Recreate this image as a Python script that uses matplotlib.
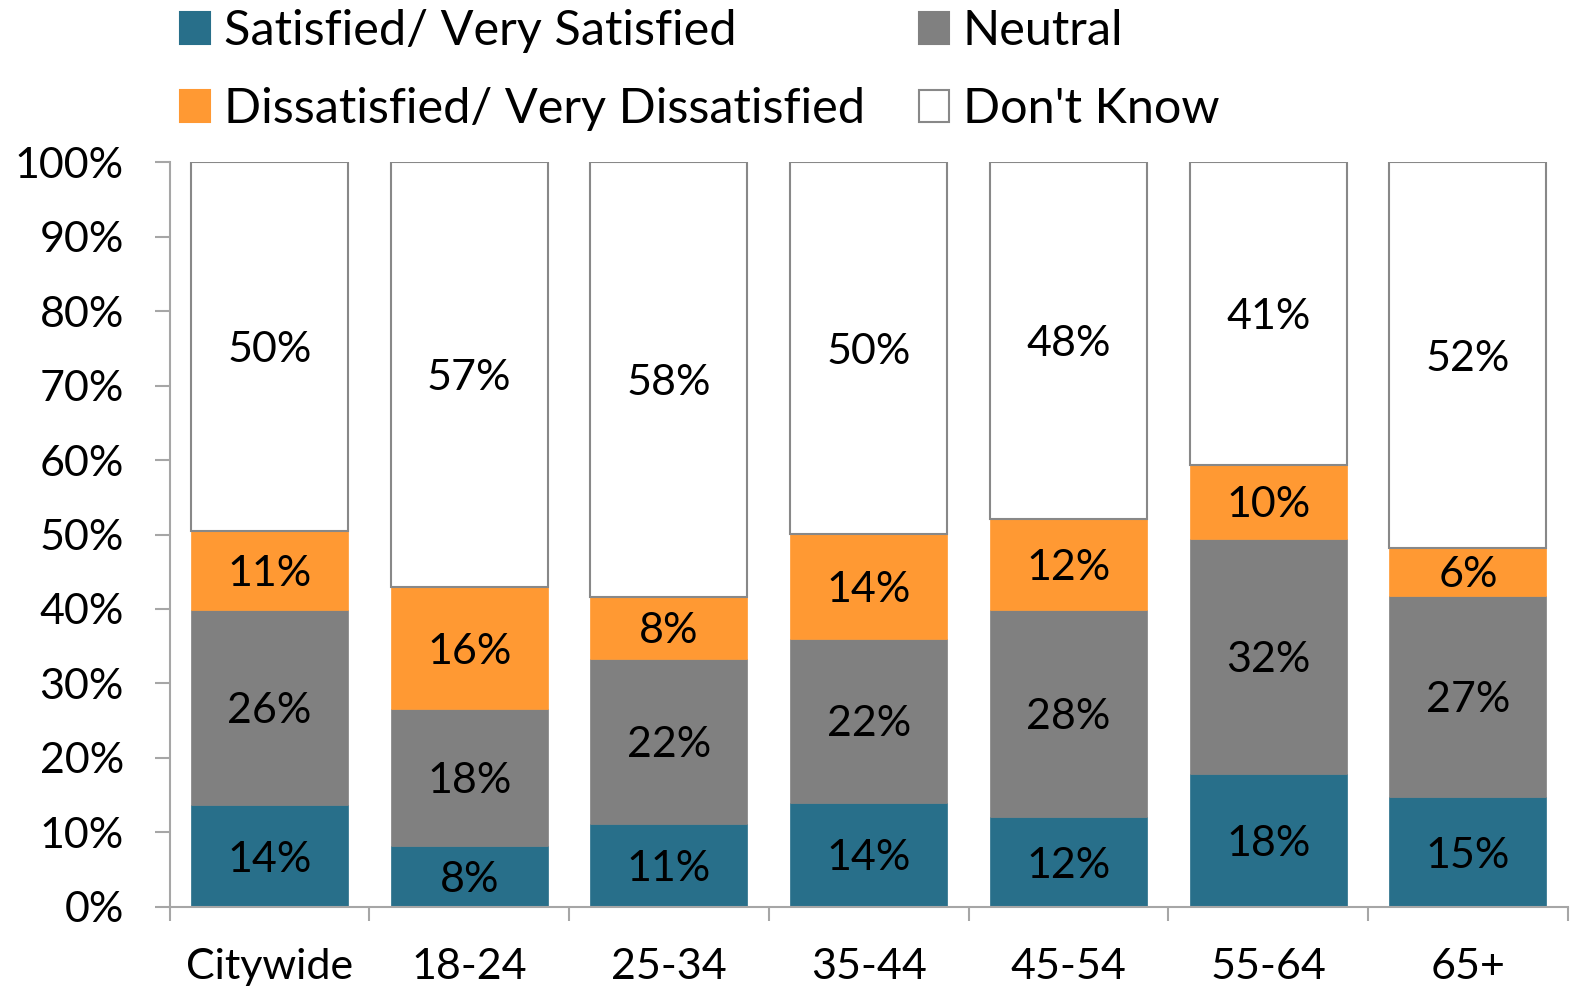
import matplotlib.pyplot as plt
import matplotlib.patches as mpatches
import numpy as np

plt.rcParams['font.family'] = ['Lato', 'DejaVu Sans']

# survey responses by age group (percent of respondents)
groups = ['Citywide', '18-24', '25-34', '35-44', '45-54', '55-64', '65+']
satisfied = [13.6, 8.1, 11.1, 13.9, 12.0, 17.8, 14.7]
neutral = [26.2, 18.4, 22.2, 22.1, 27.8, 31.6, 27.1]
dissatisfied = [10.7, 16.4, 8.3, 14.1, 12.3, 10.0, 6.4]
dont_know = [49.5, 57.1, 58.4, 49.9, 47.9, 40.6, 51.8]

series = [
    ('Satisfied/ Very Satisfied', satisfied, '#286F8A'),
    ('Neutral', neutral, '#808080'),
    ('Dissatisfied/ Very Dissatisfied', dissatisfied, '#FF9933'),
    ("Don't Know", dont_know, '#FFFFFF'),
]

fig = plt.figure(figsize=(15.75, 9.89), dpi=100)
ax = fig.add_axes([0.1077, 0.0832, 0.8877, 0.7527])

x = np.arange(len(groups))
bottom = np.zeros(len(groups))
handles = {}
for name, vals, color in series:
    vals = np.array(vals)
    edge = '#888888' if color == '#FFFFFF' else color
    ax.bar(x, vals, width=0.786, bottom=bottom, color=color,
           edgecolor=edge, linewidth=1.5 if color == '#FFFFFF' else 0.5)
    for xi, b, v in zip(x, bottom, vals):
        ax.text(xi, b + v / 2, '{:.0f}%'.format(v), ha='center',
                va='center_baseline', fontsize=31, color='black')
    handles[name] = mpatches.Patch(facecolor=color, edgecolor=edge,
                                   linewidth=1.5, label=name)
    bottom += vals

ax.set_xlim(-0.5, len(groups) - 0.5)
ax.set_ylim(0, 100)
ax.set_yticks(np.arange(0, 101, 10))
ax.set_yticklabels(['{}%'.format(t) for t in range(0, 101, 10)])
ax.set_xticks(x)
ax.set_xticklabels(groups)
ax.set_xticks(np.arange(-0.5, len(groups)), minor=True)

axis_gray = '#A6A6A6'
for side in ['top', 'right']:
    ax.spines[side].set_visible(False)
for side in ['left', 'bottom']:
    ax.spines[side].set_color(axis_gray)
    ax.spines[side].set_linewidth(1.5)

ax.tick_params(axis='y', length=11, width=1.5, color=axis_gray, pad=22,
               labelsize=31)
ax.tick_params(axis='x', which='major', length=0, pad=30, labelsize=31)
ax.tick_params(axis='x', which='minor', length=10, width=1.5, color=axis_gray)

order = ['Satisfied/ Very Satisfied', 'Dissatisfied/ Very Dissatisfied',
         'Neutral', "Don't Know"]
fig.legend(handles=[handles[k] for k in order], ncol=2, loc='upper left',
           bbox_to_anchor=(0.1143, 0.991), frameon=False, fontsize=35,
           borderpad=0, borderaxespad=0, handlelength=0.62, handleheight=0.62,
           handletextpad=0.29, columnspacing=1.1, labelspacing=0.7)

fig.savefig('out.png', dpi=100)
